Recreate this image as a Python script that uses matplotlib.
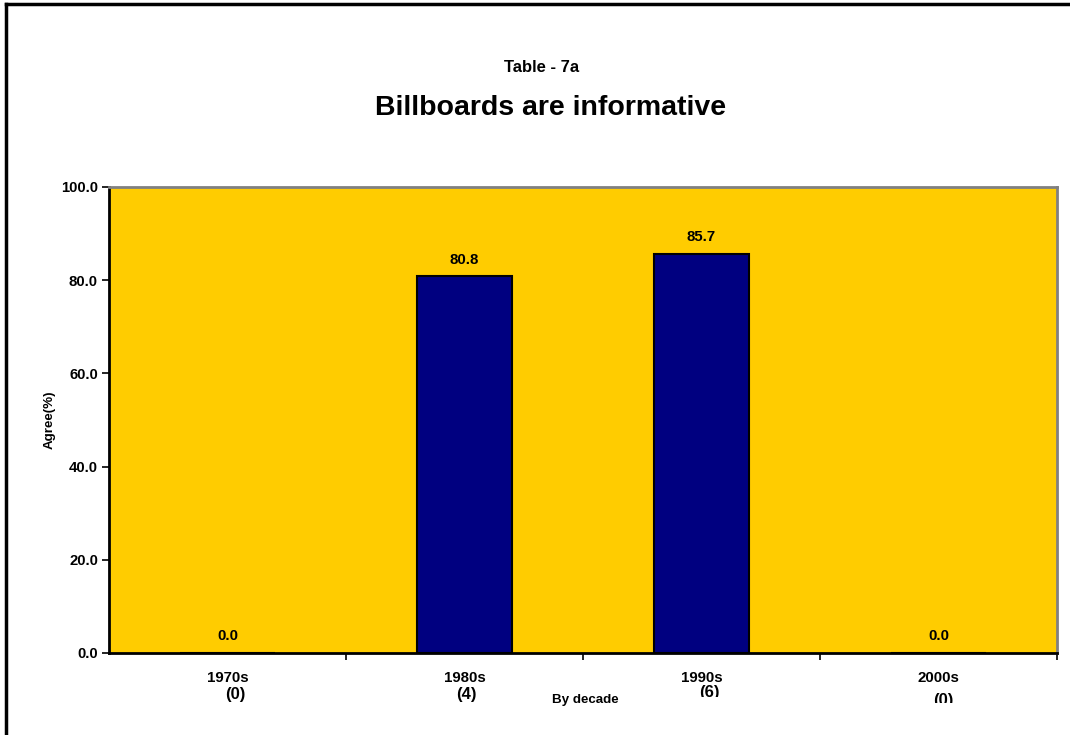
import matplotlib
matplotlib.use("Agg")
import matplotlib.pyplot as plt
from matplotlib.lines import Line2D
from matplotlib.transforms import Bbox, blended_transform_factory

plt.rcParams["font.family"] = ["Liberation Sans", "DejaVu Sans"]
plt.rcParams["font.weight"] = "bold"

# ----------------------------
# data
# ----------------------------
decades = ["1970s", "1980s", "1990s", "2000s"]
counts = ["(0)", "(4)", "(6)", "(0)"]
agree = [0.0, 80.8, 85.7, 0.0]
y_ticks = [0, 20, 40, 60, 80, 100]

# ----------------------------
# figure
# ----------------------------
W, H = 1070, 735
fig = plt.figure(figsize=(W / 100, H / 100), dpi=100)
ax = fig.add_axes([109 / W, 1 - 653 / H, (1057 - 109) / W, (653 - 187) / H])

ax.set_facecolor("#FFCC00")
x = list(range(len(decades)))
bars = ax.bar(x, agree, width=0.405, color="#000080", edgecolor="black", linewidth=1.5)

for xi, v in zip(x, agree):
    ax.annotate(f"{v:.1f}", (xi, v), textcoords="offset points", xytext=(0, 7),
                ha="center", va="bottom", fontsize=10.8, fontweight="bold")

ax.set_xlim(-0.5, len(decades) - 0.5)
ax.set_ylim(0, 100)
ax.set_yticks(y_ticks)
ax.set_yticklabels([f"{t:.1f}" for t in y_ticks], fontsize=10.7, fontweight="bold")
ax.set_xticks([i + 0.5 for i in x])
ax.set_xticklabels([])
ax.tick_params(axis="y", direction="out", length=5, width=1.2, pad=3)
ax.tick_params(axis="x", direction="out", length=5, width=1.2)

for side in ("left", "bottom"):
    ax.spines[side].set_color("black")
    ax.spines[side].set_linewidth(2)
for side in ("top", "right"):
    ax.spines[side].set_color("#808080")
    ax.spines[side].set_linewidth(2)

# category labels (two lines, the lower one partly cut off like the source)
tr = blended_transform_factory(ax.transData, ax.transAxes)
name_y = -(678 - 653) / 466
count_y = [-(695 - 653) / 466, -(695 - 653) / 466, -(693 - 653) / 466, -(701 - 653) / 466]
count_dx = [0.035, 0.008, 0.035, 0.022]
clip_lines = [None, None, 697, 703]
for i, (name, cnt) in enumerate(zip(decades, counts)):
    ax.text(i, name_y, name, transform=tr, ha="center", va="center",
            fontsize=10.8, fontweight="bold", clip_on=False)
    t = ax.text(i + count_dx[i], count_y[i], cnt, transform=tr, ha="center", va="center",
                fontsize=12, fontweight="bold")
    if clip_lines[i] is not None:
        t.set_clip_on(True)
        t.set_clip_box(Bbox.from_extents(0, H - clip_lines[i], W, H))
    else:
        t.set_clip_on(False)

ax.text(0.502, -(700 - 653) / 466, "By decade", transform=ax.transAxes,
        ha="center", va="center", fontsize=9.6, fontweight="bold")
ax.set_ylabel("Agree(%)", fontsize=9.6, fontweight="bold", labelpad=4)

fig.text(542 / W, 1 - 68 / H, "Table - 7a", ha="center", va="center",
         fontsize=12, fontweight="bold")
fig.text(551 / W, 1 - 108 / H, "Billboards are informative", ha="center", va="center",
         fontsize=20.5, fontweight="bold")

# outer frame (only left and top edges are visible in the source)
fig.add_artist(Line2D([6 / W, 6 / W], [0, 1 - 4 / H], color="black", linewidth=2.5))
fig.add_artist(Line2D([6 / W, 1], [1 - 4 / H, 1 - 4 / H], color="black", linewidth=2.5))

fig.savefig("out.png", dpi=100)
